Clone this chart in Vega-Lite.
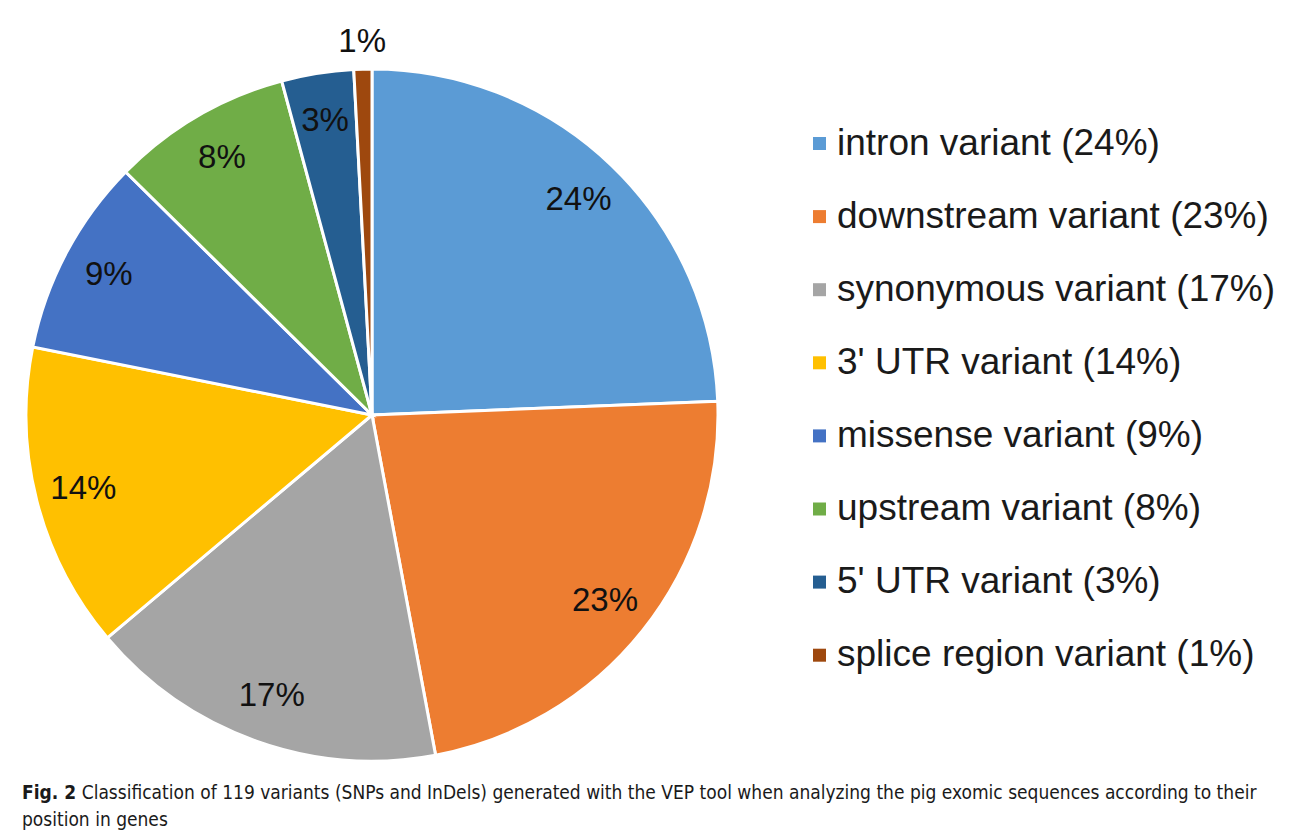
{
  "$schema": "https://vega.github.io/schema/vega-lite/v6.json",
  "autosize": {"type": "none"},
  "width": 700,
  "height": 700,
  "padding": {"left": 22, "top": 65, "right": 570, "bottom": 68},
  "background": "white",
  "config": {"view": {"stroke": null}},
  "title": {
    "text": "Fig. 2",
    "subtitle": ["\u200B\u00a0\u00a0\u00a0\u00a0\u00a0\u00a0\u00a0\u00a0\u00a0\u00a0\u00a0Classification of 119 variants (SNPs and InDels) generated with the VEP tool when analyzing the pig exomic sequences according to their", "position in genes"],
    "orient": "bottom",
    "anchor": "start",
    "frame": "group",
    "offset": 1,
    "font": "DejaVu Sans Condensed",
    "fontSize": 19,
    "fontWeight": "bold",
    "color": "#1a1a1a",
    "subtitleFont": "DejaVu Sans Condensed",
    "subtitleFontSize": 19,
    "subtitleColor": "#1a1a1a",
    "subtitlePadding": -19,
    "subtitleLineHeight": 27
  },
  "data": {
    "values": [
      {"category": "intron variant (24%)", "count": 29, "pct": "24%"},
      {"category": "downstream variant (23%)", "count": 27, "pct": "23%"},
      {"category": "synonymous variant (17%)", "count": 20, "pct": "17%"},
      {"category": "3' UTR variant (14%)", "count": 17, "pct": "14%"},
      {"category": "missense variant (9%)", "count": 11, "pct": "9%"},
      {"category": "upstream variant (8%)", "count": 10, "pct": "8%"},
      {"category": "5' UTR variant (3%)", "count": 4, "pct": "3%"},
      {"category": "splice region variant (1%)", "count": 1, "pct": "1%"}
    ]
  },
  "encoding": {
    "theta": {"field": "count", "type": "quantitative", "stack": true},
    "order": {"field": "count", "type": "quantitative", "sort": "descending"}
  },
  "layer": [
    {
      "mark": {"type": "arc", "outerRadius": 346, "stroke": "white", "strokeWidth": 3},
      "encoding": {
        "color": {
          "field": "category",
          "type": "nominal",
          "sort": null,
          "scale": {
            "domain": ["intron variant (24%)", "downstream variant (23%)", "synonymous variant (17%)", "3' UTR variant (14%)", "missense variant (9%)", "upstream variant (8%)", "5' UTR variant (3%)", "splice region variant (1%)"],
            "range": ["#5B9BD5", "#ED7D31", "#A5A5A5", "#FFC000", "#4472C4", "#70AD47", "#255E91", "#9E480E"]
          },
          "legend": {
            "title": null,
            "orient": "none",
            "legendX": 779,
            "legendY": 60,
            "padding": 0,
            "symbolType": "square",
            "symbolSize": 169,
            "symbolStrokeWidth": 0,
            "labelFont": "Liberation Sans",
            "labelFontSize": 37,
            "labelColor": "#1a1a1a",
            "labelOffset": -1,
            "labelLimit": 600,
            "rowPadding": 35.1
          }
        }
      }
    },
    {
      "mark": {"type": "text", "radius": 298, "font": "Liberation Sans", "fontSize": 33, "color": "#111", "align": "center", "baseline": "middle"},
      "encoding": {
        "text": {"condition": {"test": "datum.count > 1", "field": "pct"}, "value": ""},
        "detail": {"field": "category"}
      }
    },
    {
      "mark": {"type": "text", "radius": 373, "font": "Liberation Sans", "fontSize": 33, "color": "#111", "align": "center", "baseline": "middle"},
      "encoding": {
        "text": {"condition": {"test": "datum.count == 1", "field": "pct"}, "value": ""},
        "detail": {"field": "category"}
      }
    }
  ]
}
